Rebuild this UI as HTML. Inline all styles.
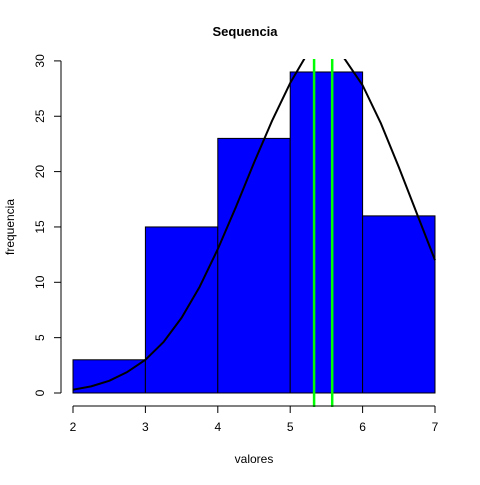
<!DOCTYPE html>
<html><head><meta charset="utf-8"><style>
body{margin:0;background:#fff}
text{font-family:"Liberation Sans",sans-serif;font-size:12px;fill:#000}
</style></head><body>
<svg id="c" width="480" height="480">
<defs><clipPath id="pc"><rect x="58" y="59" width="392" height="350"/></clipPath></defs>
<text x="245" y="36" text-anchor="middle" style="font-weight:bold;font-size:13px">Sequencia</text>
<text x="254" y="463" text-anchor="middle">valores</text>
<text transform="translate(14,227) rotate(-90)" text-anchor="middle">frequencia</text>
<g id="bars"></g><g id="curve" clip-path="url(#pc)"></g><g id="vlines"></g><g id="axes"></g>
</svg>
<script>
const binEdges=[2,3,4,5,6,7];
const counts=[3,15,23,29,16];
const xTicks=[2,3,4,5,6,7];
const yTicks=[0,5,10,15,20,25,30];
const curveX=[2,2.25,2.5,2.75,3,3.25,3.5,3.75,4,4.25,4.5,4.75,5,5.25,5.5,5.75,6,6.25,6.5,6.75,7];
const curveY=[0.3,0.6,1.1,1.9,3.0,4.6,6.8,9.6,13,16.8,20.8,24.6,28,30.8,31.8,30.2,27.8,24.4,20.4,16.2,12];
const greenLines=[5.33,5.58];
const NS='http://www.w3.org/2000/svg';
const X=v=>73+(v-2)*72.4, Y=v=>393-v*11.07;
function mk(t,a,p){const e=document.createElementNS(NS,t);for(const k in a)e.setAttribute(k,a[k]);p.appendChild(e);return e;}
const bars=document.getElementById('bars');
counts.forEach((c,i)=>{const r=mk('rect',{x:X(binEdges[i]),y:Y(c),width:X(binEdges[i+1])-X(binEdges[i]),height:Y(0)-Y(c),fill:'#0000ff',stroke:'#000','stroke-width':1},bars);

});
const cg=document.getElementById('curve');
let d='';curveX.forEach((x,i)=>{d+=(i?'L':'M')+X(x)+','+Y(curveY[i]);});
const cp=mk('path',{d:d,fill:'none',stroke:'#000','stroke-width':2,'stroke-linejoin':'round'},cg);


const vg=document.getElementById('vlines');
greenLines.forEach((v,i)=>{const l=mk('line',{x1:X(v),x2:X(v),y1:59,y2:407,stroke:'#00ff00','stroke-width':2.5},vg);

});
const ag=document.getElementById('axes');
const xa=mk('line',{x1:X(xTicks[0]),x2:X(xTicks[xTicks.length-1]),y1:406,y2:406,stroke:'#000'},ag);


xTicks.forEach(t=>{mk('line',{x1:X(t),x2:X(t),y1:406,y2:413,stroke:'#000'},ag);
const tx=mk('text',{x:X(t),y:431,'text-anchor':'middle'},ag);tx.textContent=t;

});
const ya=mk('line',{x1:61,x2:61,y1:Y(yTicks[0]),y2:Y(yTicks[yTicks.length-1]),stroke:'#000'},ag);


yTicks.forEach(t=>{mk('line',{x1:54,x2:61,y1:Y(t),y2:Y(t),stroke:'#000'},ag);
const tx=mk('text',{transform:'translate(44,'+Y(t)+') rotate(-90)','text-anchor':'middle'},ag);tx.textContent=t;

});
</script>
</body></html>
